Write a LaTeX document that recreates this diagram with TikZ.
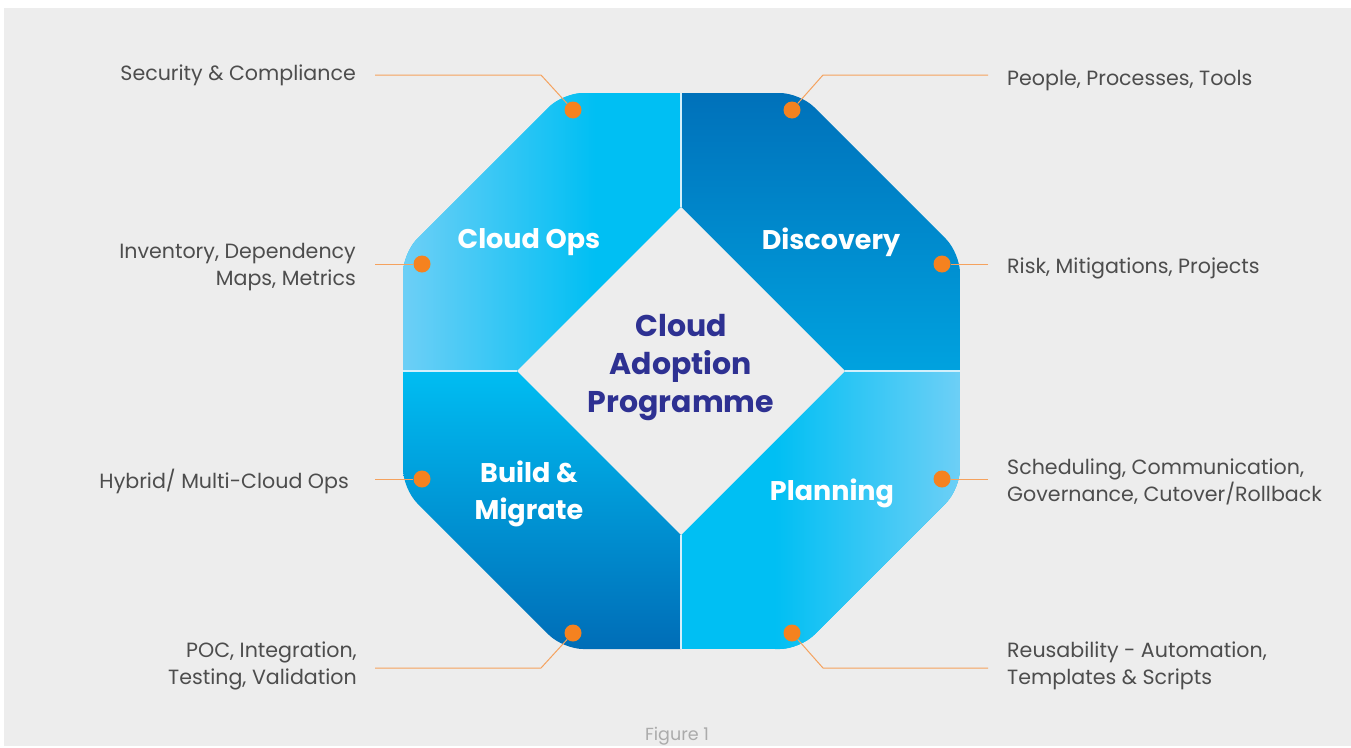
\documentclass[tikz,border=0pt]{standalone}
\usepackage{fontspec}
\setmainfont{Poppins}
\definecolor{bggrey}{HTML}{EDEDED}
\definecolor{lightblue}{HTML}{6DCFF6}
\definecolor{midblue}{HTML}{00BFF3}
\definecolor{darkblue}{HTML}{0071BA}
\definecolor{discbot}{HTML}{00A2DF}
\definecolor{buildtop}{HTML}{00BDF2}
\definecolor{buildbot}{HTML}{006DB7}
\definecolor{splitc}{HTML}{D2F0FC}
\definecolor{dotor}{HTML}{F5821F}
\definecolor{lineor}{HTML}{F5A25E}
\definecolor{txtgrey}{HTML}{4D4D4D}
\definecolor{navy}{HTML}{2E3192}
\definecolor{figgrey}{HTML}{ABABAB}
\begin{document}
\begin{tikzpicture}[x=1pt,y=-1pt,
  side/.style={text=txtgrey, font=\fontsize{20.6}{27}\selectfont, inner sep=0pt},
  quad/.style={text=white, font=\fontsize{27}{37}\selectfont\bfseries, align=center, inner sep=0pt},
  dot/.style={circle, fill=dotor, minimum size=17pt, inner sep=0pt},
  conn/.style={draw=lineor, line width=1pt},
  split/.style={draw=splitc, line width=1.5pt}]
\useasboundingbox (0,0) rectangle (1351,747);
\fill[white] (0,0) rectangle (1351,747);
\fill[bggrey] (4,8) rectangle (1351,746);
% octagon quadrants
\begin{scope}
\clip[rounded corners=20pt] (563,93) -- (800,93) -- (960,253) -- (960,489) -- (800,649) -- (563,649) -- (403,489) -- (403,253) -- cycle;
\fill[midblue] (403,93) rectangle (681,371);
\shade[left color=lightblue, right color=midblue] (403,93) rectangle (595,371);
\shade[top color=darkblue, bottom color=discbot] (681,93) rectangle (960,371);
\shade[top color=buildtop, bottom color=buildbot] (403,371) rectangle (681,649);
\fill[midblue] (681,371) rectangle (960,649);
\shade[left color=midblue, right color=lightblue] (775,371) rectangle (960,649);
\end{scope}
% inner diamond
\fill[bggrey] (517,371) -- (681,207) -- (845,371) -- (681,535) -- cycle;
% splits
\draw[split] (681,93) -- (681,207);
\draw[split] (681,535) -- (681,649);
\draw[split] (403,371) -- (517,371);
\draw[split] (845,371) -- (960,371);
% texts
\node[quad] (ops) at (529,242) {Cloud Ops};
\node[quad] (disc) at (831,242) {Discovery};
\node[quad] (build) at (529,494) {Build \&\\Migrate};
\node[quad] (plan) at (832,493) {Planning};
\node[text=navy, font=\fontsize{30}{38}\selectfont\bfseries, align=center, inner sep=0pt] (core) at (681,368) {Cloud\\Adoption\\Programme};
% side labels
\node[side, anchor=east] (l1) at (356,75) {Security \& Compliance};
\node[side, anchor=east, align=right] (l2) at (356,267) {Inventory, Dependency\\Maps, Metrics};
\node[side, anchor=east] (l3) at (349,481) {Hybrid/ Multi-Cloud Ops};
\node[side, anchor=east, align=right] (l4) at (357,666) {POC, Integration,\\Testing, Validation};
\node[side, anchor=west] (r1) at (1007,81) {People, Processes, Tools};
\node[side, anchor=west] (r2) at (1007,268) {Risk, Mitigations, Projects};
\node[side, anchor=west, align=left] (r3) at (1007,482) {Scheduling, Communication,\\Governance, Cutover/Rollback};
\node[side, anchor=west, align=left] (r4) at (1007,666) {Reusability - Automation,\\Templates \& Scripts};
\node[text=figgrey, font=\fontsize{17.5}{20}\selectfont, inner sep=0pt] (fig) at (677,736) {Figure 1};
% connector ends
\coordinate (e1) at (375,75); \coordinate (b1) at (541,75);
\coordinate (e2) at (375,264);
\coordinate (e3) at (375,479);
\coordinate (e4) at (375,668); \coordinate (b4) at (541,668);
\coordinate (f1) at (988,75); \coordinate (c1) at (823,75);
\coordinate (f2) at (988,264);
\coordinate (f3) at (988,479);
\coordinate (f4) at (988,668); \coordinate (c4) at (823,668);
% dots
\node[dot] (d1) at (573,110) {};
\node[dot] (d2) at (422,264) {};
\node[dot] (d3) at (422,479) {};
\node[dot] (d4) at (573,633) {};
\node[dot] (g1) at (792,110) {};
\node[dot] (g2) at (942,264) {};
\node[dot] (g3) at (942,479) {};
\node[dot] (g4) at (792,633) {};
% connectors
\draw[conn] (e1) -- (b1) -- (d1);
\draw[conn] (e2) -- (d2);
\draw[conn] (e3) -- (d3);
\draw[conn] (e4) -- (b4) -- (d4);
\draw[conn] (f1) -- (c1) -- (g1);
\draw[conn] (f2) -- (g2);
\draw[conn] (f3) -- (g3);
\draw[conn] (f4) -- (c4) -- (g4);
\end{tikzpicture}
\end{document}
